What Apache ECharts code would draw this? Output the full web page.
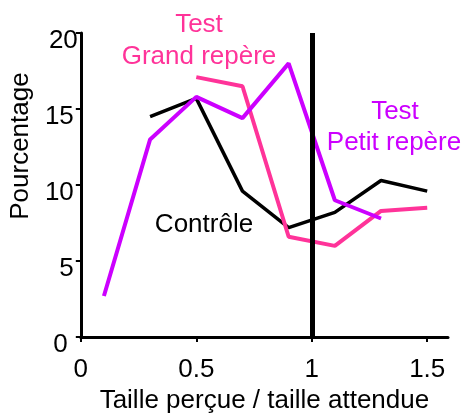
<!DOCTYPE html>
<html>
<head>
<meta charset="utf-8">
<script src="https://cdn.jsdelivr.net/npm/echarts@6/dist/echarts.min.js"></script>
<style>
html,body{margin:0;padding:0;background:#fff;}
#chart{width:463px;height:419px;}
</style>
</head>
<body>
<div id="chart"></div>
<script>
// Data
const xTicks = [0, 0.5, 1, 1.5];
const controleX = [0.3, 0.5, 0.7, 0.9, 1.1, 1.3, 1.5];
const controleY = [14.5, 15.7, 9.6, 7.2, 8.2, 10.3, 9.6];
const grandX = [0.5, 0.7, 0.9, 1.1, 1.3, 1.5];
const grandY = [17.1, 16.5, 6.6, 6.0, 8.3, 8.5];
const petitX = [0.1, 0.3, 0.5, 0.7, 0.9, 1.1, 1.3];
const petitY = [2.7, 13.0, 15.8, 14.4, 18.0, 9.0, 7.8];
const refX = 1;

const FONT = '"Liberation Sans", Arial, sans-serif';
const PINK = '#ff3399';
const PURPLE = '#cc00ff';

function pairs(xs, ys) { return xs.map((x, i) => [x, ys[i]]); }

const chart = echarts.init(document.getElementById('chart'), null, {renderer: 'canvas'});
chart.setOption({
  animation: false,
  backgroundColor: '#fff',
  grid: {left: 80, top: 33, right: 15, bottom: 78, containLabel: false},
  xAxis: {
    type: 'value', min: 0, max: 1.59, interval: 0.5,
    name: 'Taille perçue / taille attendue',
    nameLocation: 'middle', nameGap: 50,
    nameTextStyle: {fontSize: 26, color: '#000', fontFamily: FONT},
    axisLine: {show: true, onZero: false, lineStyle: {color: '#000', width: 3}},
    axisTick: {show: true, length: 5, lineStyle: {color: '#000', width: 2}, customValues: xTicks},
    axisLabel: {fontSize: 26, color: '#000', fontFamily: FONT, margin: 20, customValues: xTicks},
    splitLine: {show: false}
  },
  yAxis: {
    type: 'value', min: 0, max: 20, interval: 5,
    name: 'Pourcentage',
    nameLocation: 'middle', nameGap: 42,
    nameTextStyle: {fontSize: 26, color: '#000', fontFamily: FONT, padding: [0, 0, 0, 78]},
    axisLine: {show: true, lineStyle: {color: '#000', width: 3}},
    axisTick: {show: true, length: 5, lineStyle: {color: '#000', width: 2}},
    axisLabel: {
      fontSize: 26, color: '#000', fontFamily: FONT, margin: 3,
      formatter: function (v) {
        if (v === 20) return '{t|' + v + '}';
        if (v === 0) return '{z|' + v + '}';
        return '{a|' + v + '}';
      },
      rich: {
        t: {fontSize: 26, color: '#000', fontFamily: FONT, padding: [15, 0, 0, 0]},
        a: {fontSize: 26, color: '#000', fontFamily: FONT, padding: [15, 4, 0, 0]},
        z: {fontSize: 26, color: '#000', fontFamily: FONT, padding: [15, 10, 0, 0]}
      }
    },
    splitLine: {show: false}
  },
  series: [
    {
      name: 'Contrôle', type: 'line', data: pairs(controleX, controleY),
      showSymbol: false, lineStyle: {color: '#000', width: 3.5}, itemStyle: {color: '#000'},
      markLine: {
        silent: true, symbol: 'none', label: {show: false},
        lineStyle: {color: '#000', width: 5, type: 'solid'},
        data: [{xAxis: refX}]
      }
    },
    {
      name: 'Test Grand repère', type: 'line', data: pairs(grandX, grandY),
      showSymbol: false, lineStyle: {color: PINK, width: 4}, itemStyle: {color: PINK}
    },
    {
      name: 'Test Petit repère', type: 'line', data: pairs(petitX, petitY),
      showSymbol: false, lineStyle: {color: PURPLE, width: 4}, itemStyle: {color: PURPLE}
    }
  ],
  graphic: [
    {type: 'text', x: 199, y: 25, style: {text: 'Test', fill: PINK, font: '26px ' + FONT, align: 'center', verticalAlign: 'middle'}},
    {type: 'text', x: 199, y: 57, style: {text: 'Grand repère', fill: PINK, font: '26px ' + FONT, align: 'center', verticalAlign: 'middle'}},
    {type: 'text', x: 395, y: 112, style: {text: 'Test', fill: PURPLE, font: '26px ' + FONT, align: 'center', verticalAlign: 'middle'}},
    {type: 'text', x: 394, y: 143, style: {text: 'Petit repère', fill: PURPLE, font: '26px ' + FONT, align: 'center', verticalAlign: 'middle'}},
    {type: 'text', x: 204, y: 225, style: {text: 'Contrôle', fill: '#000', font: '26px ' + FONT, align: 'center', verticalAlign: 'middle'}}
  ]
});
</script>
</body>
</html>
